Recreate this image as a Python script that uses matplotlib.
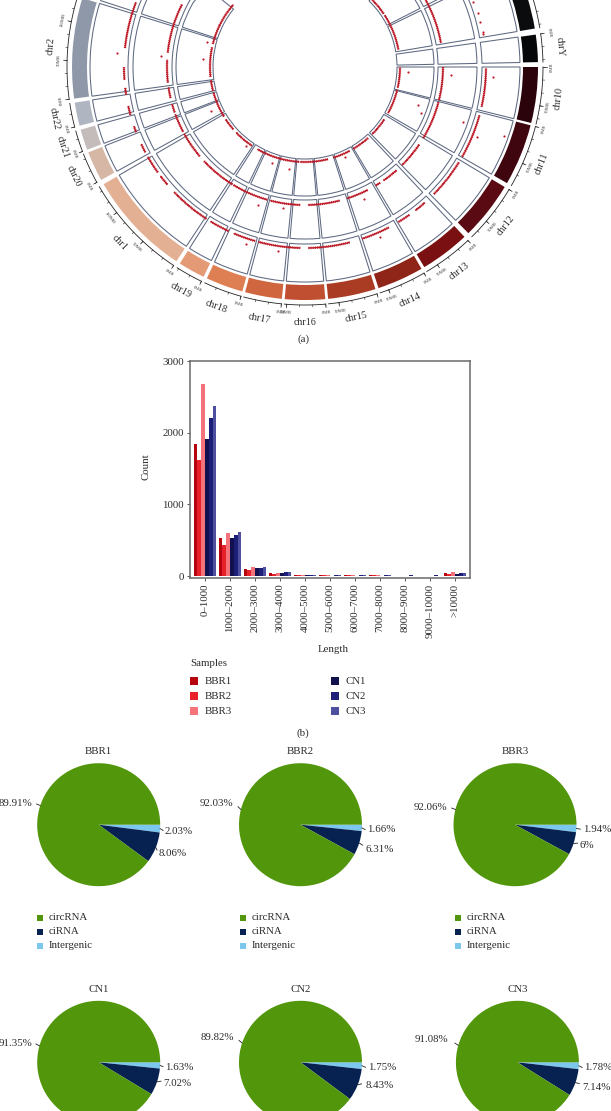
import numpy as np
from matplotlib import pyplot as plt

W, H = 611, 1111
plt.rcParams['font.family'] = ['Liberation Serif', 'DejaVu Serif']
TEXT = '#2b2b2b'

# panel (a): chromosomes, angles are degrees clockwise from east
chrom_names = ['chr9', 'chrX', 'chrY', 'chr10', 'chr11', 'chr12', 'chr13', 'chr14', 'chr15', 'chr16',
               'chr17', 'chr18', 'chr19', 'chr1', 'chr20', 'chr21', 'chr22', 'chr2', 'chr3']
chrom_start = [-46, -26, -8, 0, 14.5, 31, 46.8, 60, 72.4, 85,
               95.7, 105.6, 115.8, 123.5, 151, 159.2, 165.4, 172.2, 198]
chrom_end = [-27, -9.5, -1.2, 13.9, 29.9, 45.5, 59.2, 71.6, 84.3, 95,
             104.9, 114.9, 122.5, 149.8, 158.5, 164.4, 171.2, 197.2, 219]
chrom_colors = ['#0b0d10', '#0a0c0e', '#050708', '#2a030b', '#3f0610', '#5a0a12', '#7a1012', '#8f2418', '#ab3c24', '#c04e30',
                '#d0663f', '#dd7f53', '#e49a74', '#e4b094', '#d6b7a5', '#c4bbbb', '#b0b5c2', '#8f98a8', '#7f8899']
chrom_ticks = [[0, 90], [0, 90], [0], [0, 90], [0, 90], [0, 90], [0, 90], [0, 90], [0, 90], [0, 90],
               [0], [0], [0], [0, 90, 180], [0], [0], [0], [0, 90, 180], [0, 90, 180]]
DEG_PER_MB = 9.4 / 90

# tracks: (radius in, radius out), runs of dots along the baseline, and stray dots
track_radii = [(92, 129), (133, 172), (177, 215)]
track_base = [95, 138, 181]
inner_runs = [(-45, -34), (-33, -10.5), (0.4, 12.7), (13.9, 29), (33.5, 45), (48.4, 59.7), (62, 72.7), (76, 93),
              (93.5, 120), (124, 136.5), (139, 146.5), (148.6, 164.4), (165.5, 172), (174, 181), (181, 192), (194, 206), (206, 221)]
middle_runs = [(-29, -10), (0, 14), (14.8, 31), (34.2, 45.3), (48.5, 55.4), (57, 59.3), (63, 72.3), (75.5, 88.8), (92, 104.6),
               (105.9, 121.2), (121.7, 137), (139.7, 151), (152, 160), (160.8, 164.3), (167, 171.5), (173.5, 183), (186, 207)]
outer_runs = [(0.5, 12.7), (15.5, 29.8), (31.8, 44.6), (48.6, 52.4), (54.8, 59), (62.4, 71.6), (75.7, 89), (91.5, 104.9),
              (106, 113.2), (115, 121.5), (123, 136.3), (139.5, 143), (144.4, 150.3), (151.9, 154.8), (158.9, 160.9),
              (164.7, 167.6), (171.2, 173.4), (176, 180), (186, 189), (189, 201)]
track_runs = [inner_runs, middle_runs, outer_runs]
stray_theta = [184.5, 194.3, 155, 2.8, 18.6, 21.6, 66, 109, 98.9, 126.8,
               184.4, 3.1, 19.2, 66, 108.8, 98.9,
               184.3, 3, 19.1, 22.1, 66.2, 108.4, 98.3, -11.1, -10.5, -14.4, -17.3, -21]
stray_r = [102, 101, 104, 103, 119, 125, 99, 101.5, 103, 98.6,
           144, 146, 167, 144, 146, 142.7,
           188.5, 188, 210.6, 186, 186, 186.6, 186, 181, 181, 181, 181, 180]

# panel (b)
length_bins = ['0–1000', '1000–2000', '2000–3000', '3000–4000', '4000–5000', '5000–6000',
               '6000–7000', '7000–8000', '8000–9000', '9000–10000', '>10000']
sample_names = ['BBR1', 'BBR2', 'BBR3', 'CN1', 'CN2', 'CN3']
sample_colors = ['#b5040f', '#e8202a', '#f4737b', '#13104f', '#1c1e78', '#4f4f9f']
bbr1_counts = [1850, 530, 95, 40, 15, 10, 8, 8, 2, 2, 45]
bbr2_counts = [1620, 440, 85, 30, 15, 10, 10, 8, 2, 2, 30]
bbr3_counts = [2680, 600, 120, 40, 15, 10, 8, 8, 6, 3, 60]
cn1_counts = [1920, 530, 110, 40, 15, 5, 6, 5, 3, 6, 30]
cn2_counts = [2210, 570, 115, 50, 10, 15, 8, 8, 8, 8, 40]
cn3_counts = [2380, 620, 130, 60, 15, 8, 8, 8, 6, 6, 40]
sample_counts = [bbr1_counts, bbr2_counts, bbr3_counts, cn1_counts, cn2_counts, cn3_counts]

# pies
pie_names = ['BBR1', 'BBR2', 'BBR3', 'CN1', 'CN2', 'CN3']
intergenic_pct = [2.03, 1.66, 1.94, 1.63, 1.75, 1.78]
cirna_pct = [8.06, 6.31, 6, 7.02, 8.43, 7.14]
circrna_pct = [89.91, 92.03, 92.06, 91.35, 89.82, 91.08]
pie_kinds = ['circRNA', 'ciRNA', 'Intergenic']
pie_colors = ['#52960b', '#072251', '#7cc7ee']

fig = plt.figure(figsize=(W / 100, H / 100), dpi=100, facecolor='white')


def px_axes(left, top, right, bottom, **kw):
    return fig.add_axes([left / W, 1 - bottom / H, (right - left) / W, (bottom - top) / H], **kw)


# page axes in pixels, for loose text and legends
page = px_axes(0, 0, W, H)
page.set_xlim(0, W)
page.set_ylim(H, 0)
page.axis('off')


def label_rotation(deg):
    # text follows the circle: tops to the centre below, tops to the outside above
    if 0 <= deg <= 172:
        return 90 - deg
    return -90 - deg


def draw_circos():
    cx, cy, rmax = 305, 67, 245
    ax = px_axes(cx - rmax, cy - rmax, cx + rmax, cy + rmax, projection='polar')
    ax.set_theta_direction(-1)
    ax.set_theta_zero_location('E')
    ax.set_rlim(0, rmax)
    ax.axis('off')
    ax.patch.set_alpha(0)

    def on_page(deg, r, margin):
        return cy + r * np.sin(np.deg2rad(deg)) > margin

    for i, name in enumerate(chrom_names):
        t0, t1 = chrom_start[i], chrom_end[i]
        mid_deg = (t0 + t1) / 2
        mid = np.deg2rad(mid_deg)
        width = np.deg2rad(t1 - t0)
        ax.bar(mid, 15, width=width, bottom=218, color=chrom_colors[i], linewidth=0)
        for r_in, r_out in track_radii:
            ax.bar(mid, r_out - r_in, width=width, bottom=r_in, facecolor='none',
                   edgecolor='#5d6880', linewidth=0.75)

        # axis arc with ticks
        ax.plot(np.deg2rad(np.linspace(t0, t1, 40)), [238] * 40, color='#222222', lw=0.6, clip_on=False)
        for mb in np.arange(0, (t1 - t0) / DEG_PER_MB, 30):
            t = np.deg2rad(t0 + mb * DEG_PER_MB)
            ax.plot([t, t], [238, 240], color='#222222', lw=0.4, clip_on=False)
        for mb in chrom_ticks[i]:
            deg = t0 + mb * DEG_PER_MB
            t = np.deg2rad(deg)
            ax.plot([t, t], [238, 241.5], color='#222222', lw=0.5, clip_on=False)
            if on_page(deg, 246, 8):
                ax.text(t, 246.5, '%dMB' % mb, fontsize=3.4, color='#444444', ha='center', va='center',
                        rotation=label_rotation(deg), rotation_mode='anchor')
        if on_page(mid_deg, 255.5, 14):
            ax.text(mid, 255.5, name, fontsize=7.2, color=TEXT, ha='center', va='center',
                    rotation=label_rotation(mid_deg), rotation_mode='anchor')

    # dots along the baseline of each track, dense enough to read as a rough band
    for runs, base in zip(track_runs, track_base):
        for t0, t1 in runs:
            ax.bar(np.deg2rad((t0 + t1) / 2), 1.2, width=np.deg2rad(t1 - t0), bottom=base - 0.6,
                   color='#b5121f', linewidth=0)
            ax.plot(np.deg2rad(np.linspace(t0, t1, 30)), [base] * 30, color='#c01a28', lw=1.7,
                    linestyle=(0, (0.45, 0.35)), solid_capstyle='butt')
    ax.scatter(np.deg2rad(stray_theta), stray_r, s=2.5, color='#c01a28', linewidth=0, zorder=5)
    ax.set_rlim(0, rmax)


def draw_bars():
    ax = px_axes(190, 361, 470, 577.5)
    n = len(sample_names)
    width = 0.151
    x = np.arange(len(length_bins))
    for i in range(n):
        ax.bar(x + (i - (n - 1) / 2) * width, sample_counts[i], width=width,
               color=sample_colors[i], linewidth=0)
    ax.set_xlim(-0.6, 10.6)
    ax.set_ylim(-20, 3005)
    ax.set_yticks([0, 1000, 2000, 3000])
    ax.set_xticks(x)
    ax.set_xticklabels(length_bins, rotation=90, fontsize=7.8, color=TEXT)
    ax.tick_params(axis='y', labelsize=7.8, labelcolor=TEXT, length=2.5, width=0.7, color='#555555', pad=2)
    ax.tick_params(axis='x', length=2.5, width=0.7, color='#555555', pad=2)
    for spine in ax.spines.values():
        spine.set_color('#6a6a6a')
        spine.set_linewidth(1.1)

    page.text(146, 467, 'Count', rotation=90, fontsize=7.8, color=TEXT, ha='center', va='center')
    page.text(333, 649, 'Length', fontsize=7.8, color=TEXT, ha='center', va='center')
    page.text(190.5, 663, 'Samples', fontsize=7.8, color=TEXT, ha='left', va='center')
    for i, name in enumerate(sample_names):
        col, row = i // 3, i % 3
        y = 681 + row * 15.2
        page.scatter(194 + col * 141, y, marker='s', s=30, color=sample_colors[i], linewidth=0)
        page.text(205 + col * 141, y, name, fontsize=7.8, color=TEXT, ha='left', va='center')


pie_cx = [98.7, 300.5, 515, 98.7, 300.5, 517.4]
pie_cy = [824.7, 824.7, 824.7, 1062.3, 1062.3, 1062.3]
# where each percentage text sits: circRNA (right end), Intergenic and ciRNA (left end)
circ_text = [(32, 803), (233, 804), (447, 807), (32, 1043), (234, 1038), (448, 1040)]
inter_text = [(165, 831), (367, 830), (583, 829.5), (165, 1067), (368, 1068), (584, 1068)]
ci_text = [(158.5, 854), (365, 849), (580, 846), (163, 1084), (366, 1086), (582, 1087)]
legend_x = [40, 242.7, 458]


def pct_tick(cx, cy, r, start_pct, pct, text_xy):
    ang = np.deg2rad((start_pct + pct / 2) * 3.6)
    x0, y0 = cx + r * np.cos(ang), cy + r * np.sin(ang)
    dx, dy = text_xy[0] - x0, text_xy[1] - y0
    d = max(np.hypot(dx, dy), 1)
    step = min(d - 1, 4)
    page.plot([x0, x0 + dx / d * step], [y0, y0 + dy / d * step], color='#222222', lw=0.6)


def draw_pies():
    r = 61.5
    for i, name in enumerate(pie_names):
        cx, cy = pie_cx[i], pie_cy[i]
        ax = px_axes(cx - r, cy - r, cx + r, cy + r)
        ax.pie([intergenic_pct[i], cirna_pct[i], circrna_pct[i]], startangle=0, counterclock=False, radius=1,
               colors=[pie_colors[2], pie_colors[1], pie_colors[0]], wedgeprops={'linewidth': 0})
        ax.set_xlim(-1, 1)
        ax.set_ylim(-1, 1)
        page.text(cx, cy - 72.7, name, fontsize=7.8, color=TEXT, ha='center', va='center')

        page.text(circ_text[i][0], circ_text[i][1], '%g%%' % circrna_pct[i], fontsize=7.8, color=TEXT, ha='right', va='center')
        page.text(inter_text[i][0], inter_text[i][1], '%g%%' % intergenic_pct[i], fontsize=7.8, color=TEXT, ha='left', va='center')
        page.text(ci_text[i][0], ci_text[i][1], '%g%%' % cirna_pct[i], fontsize=7.8, color=TEXT, ha='left', va='center')
        pct_tick(cx, cy, r, 0, intergenic_pct[i], (inter_text[i][0] - 1, inter_text[i][1]))
        pct_tick(cx, cy, r, intergenic_pct[i], cirna_pct[i], (ci_text[i][0] - 1, ci_text[i][1] - 3))
        pct_tick(cx, cy, r, intergenic_pct[i] + cirna_pct[i], circrna_pct[i], (circ_text[i][0] + 2, circ_text[i][1]))

    for x in legend_x:
        for j, kind in enumerate(pie_kinds):
            y = 918 + j * 14
            page.scatter(x, y, marker='s', s=13, color=pie_colors[j], linewidth=0)
            page.text(x + 9, y, kind, fontsize=7.8, color=TEXT, ha='left', va='center')


draw_circos()
draw_bars()
draw_pies()
page.text(303, 339, '(a)', fontsize=7.8, color=TEXT, ha='center', va='center')
page.text(303, 733, '(b)', fontsize=7.8, color=TEXT, ha='center', va='center')
page.set_zorder(10)
page.patch.set_alpha(0)

fig.savefig('out.png', dpi=100)
